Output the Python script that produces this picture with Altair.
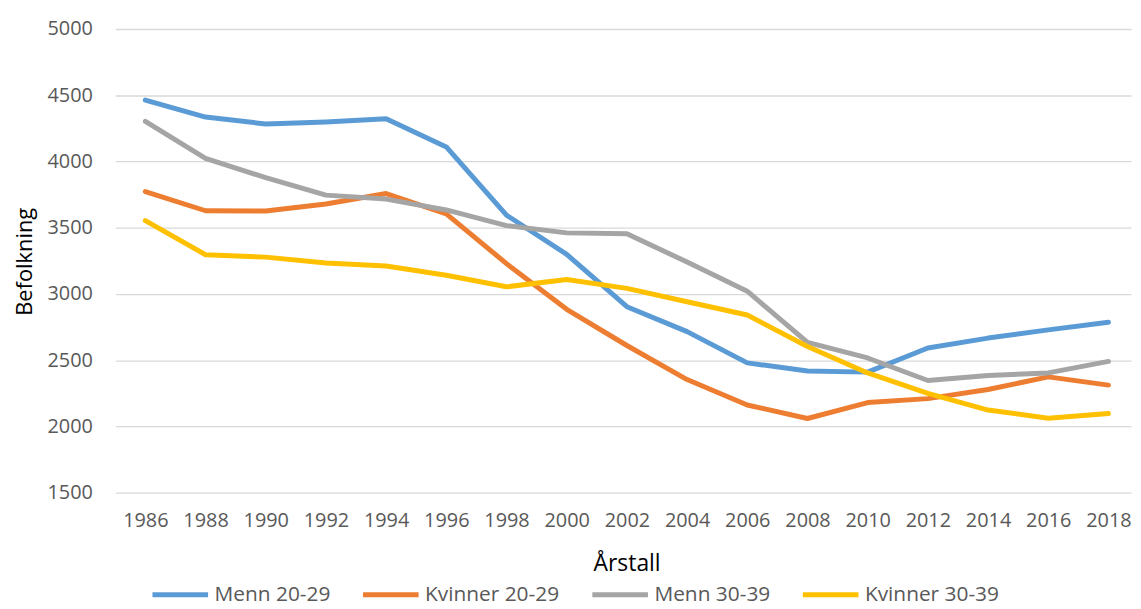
import altair as alt
import pandas as pd

years = list(range(1986, 2019, 2))
menn_20_29 = [4463, 4335, 4283, 4298, 4323, 4110, 3595, 3299, 2904, 2716, 2480, 2418, 2410, 2592, 2667, 2729, 2787]
kvinner_20_29 = [3773, 3628, 3626, 3679, 3758, 3604, 3229, 2884, 2611, 2354, 2162, 2060, 2180, 2210, 2279, 2374, 2312]
menn_30_39 = [4303, 4023, 3878, 3746, 3716, 3634, 3516, 3461, 3454, 3241, 3021, 2634, 2517, 2347, 2384, 2404, 2491]
kvinner_30_39 = [3553, 3296, 3278, 3233, 3211, 3141, 3054, 3109, 3042, 2941, 2841, 2604, 2404, 2250, 2124, 2062, 2097]

series_names = ["Menn 20-29", "Kvinner 20-29", "Menn 30-39", "Kvinner 30-39"]
series_values = [menn_20_29, kvinner_20_29, menn_30_39, kvinner_30_39]
colors = ["#5B9BD5", "#ED7D31", "#A5A5A5", "#FFC000"]
y_ticks = [1500, 2000, 2500, 3000, 3500, 4000, 4500, 5000]

rows = []
for i, (name, vals) in enumerate(zip(series_names, series_values)):
    for yr, v in zip(years, vals):
        rows.append({"Årstall": yr, "Befolkning": v, "Serie": name, "ord": i})
df = pd.DataFrame(rows)

FONT = "Open Sans"
TXT = "#595959"

chart = alt.Chart(df).mark_line(strokeWidth=5, strokeCap="round", strokeJoin="round").encode(
    x=alt.X("Årstall:Q",
            scale=alt.Scale(domain=[1985, 2018.75], nice=False, zero=False),
            axis=alt.Axis(values=years, format="d", grid=False, domain=False, ticks=False,
                          labelFont=FONT, labelFontSize=20, labelColor=TXT, labelPadding=18,
                          labelOverlap=False, labelFlush=False,
                          title="Årstall", titleFont=FONT, titleFontSize=23, titleColor="#000000",
                          titleFontWeight="normal", titleX=515, titleY=71,
                          titleBaseline="middle", titleAlign="center")),
    y=alt.Y("Befolkning:Q",
            scale=alt.Scale(domain=[1500, 5000], nice=False, zero=False),
            axis=alt.Axis(values=y_ticks, format="d", grid=True, gridColor="#D9D9D9", gridWidth=1.3,
                          domain=False, ticks=False,
                          labelFont=FONT, labelFontSize=20, labelColor=TXT, labelPadding=23,
                          title="Befolkning", titleFont=FONT, titleFontSize=22, titleColor="#000000",
                          titleFontWeight="normal", titleX=-91, titleY=234,
                          titleBaseline="middle", titleAlign="center", titleAngle=270)),
    color=alt.Color("Serie:N",
                    scale=alt.Scale(domain=series_names, range=colors),
                    legend=alt.Legend(orient="none", direction="horizontal", legendX=35, legendY=539,
                                      title=None, symbolType="stroke", symbolSize=3136,
                                      symbolStrokeWidth=5, labelFont=FONT, labelFontSize=21,
                                      labelColor=TXT, labelOffset=4, columnPadding=22, padding=0)),
    order=alt.Order("ord:Q"),
).properties(
    width=1023,
    height=467,
    autosize=alt.AutoSizeParams(type="none"),
    padding={"left": 108, "top": 19, "right": 2, "bottom": 115},
).configure_view(stroke=None)

chart.save("out.html", embed_options={"renderer": "svg", "actions": False})
